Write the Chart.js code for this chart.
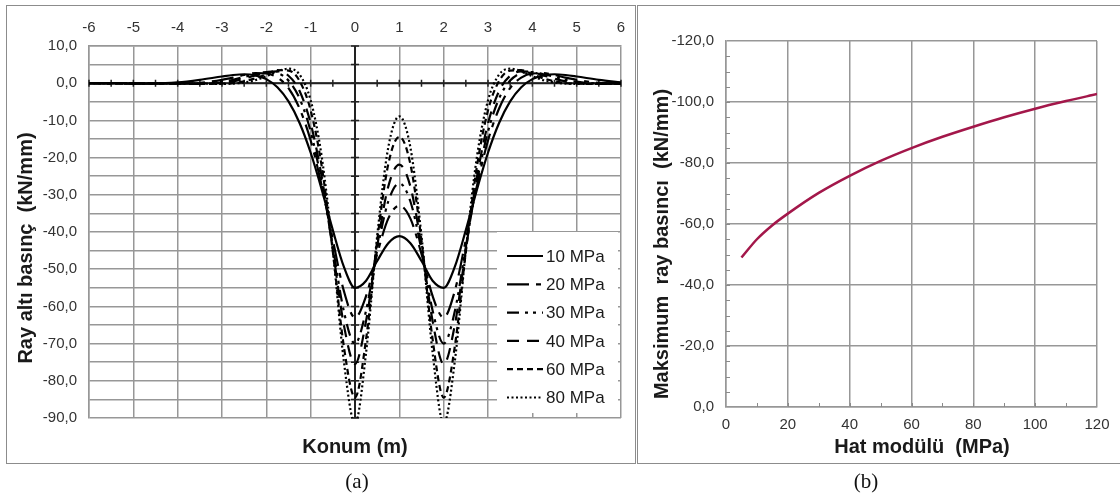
<!DOCTYPE html>
<html>
<head>
<meta charset="utf-8">
<script src="https://cdn.jsdelivr.net/npm/chart.js@4"></script>
<style>
  html, body { margin: 0; padding: 0; background: #fff; }
  body { width: 1120px; height: 497px; position: relative; overflow: hidden; }
  .frame { position: absolute; border: 1.5px solid #8c8c8c; box-sizing: border-box; }
  #frameA { left: 6px; top: 5px; width: 630px; height: 459px; }
  #frameB { left: 637px; top: 5px; width: 500px; height: 459px; }
  canvas { position: absolute; top: 0; }
  #chartA { left: 0; }
  #chartB { left: 638px; }
  .caption { position: absolute; top: 469px; width: 80px; text-align: center;
             font-family: "Liberation Serif", "Times New Roman", serif; font-size: 21px; color: #111; }
</style>
</head>
<body>
<div class="frame" id="frameA"></div>
<div class="frame" id="frameB"></div>
<canvas id="chartA" width="636" height="470"></canvas>
<canvas id="chartB" width="482" height="470"></canvas>
<div class="caption" style="left:317px">(a)</div>
<div class="caption" style="left:826px">(b)</div>

<script>
// (a) Ray altı basınç - konum
const konum = [-6, -5.5, -5, -4.5, -4, -3.5, -3, -2.75, -2.5, -2.25, -2, -1.75, -1.5, -1.25, -1, -0.75, -0.5, -0.25, 0,
  0.25, 0.5, 0.75, 1, 1.25, 1.5, 1.75, 2, 2.25, 2.5, 2.75, 3, 3.25, 3.5, 3.75, 4, 4.25, 4.5, 4.75, 5, 5.5, 6]

const basinc10 = [0.0, 0.0, -0.1, -0.1, 0.2, 0.9, 1.8, 2.2, 2.4, 2.1, 1.1, -1.1, -4.9, -10.7, -18.7, -28.6, -39.5, -49.4, -55.0,
  -53.1, -47.8, -43.0, -41.1, -43.0, -47.8, -53.1, -55.0, -49.4, -39.5, -28.6, -18.7, -10.7, -4.9, -1.1, 1.1, 2.1, 2.4, 2.2, 1.8, 0.9, 0.2]
const basinc20 = [0.0, -0.1, -0.1, -0.1, -0.1, 0.1, 0.9, 1.5, 2.2, 2.7, 2.6, 1.5, -1.3, -6.8, -15.4, -27.6, -42.1, -55.9, -63.0,
  -57.2, -45.9, -36.4, -32.9, -36.4, -45.9, -57.2, -63.0, -55.9, -42.1, -27.6, -15.4, -6.8, -1.3, 1.5, 2.6, 2.7, 2.2, 1.5, 0.9, 0.1, -0.1]
const basinc30 = [0.0, -0.1, -0.1, -0.1, -0.1, -0.1, 0.4, 0.9, 1.7, 2.4, 3.0, 2.7, 0.7, -4.1, -13.0, -26.6, -44.0, -61.4, -70.0,
  -61.1, -44.9, -31.8, -26.9, -31.8, -44.9, -61.1, -70.0, -61.4, -44.0, -26.6, -13.0, -4.1, 0.7, 2.7, 3.0, 2.4, 1.7, 0.9, 0.4, -0.1, -0.1]
const basinc40 = [0.0, 0.0, 0.0, -0.1, -0.1, -0.2, 0.1, 0.5, 1.2, 2.1, 3.0, 3.2, 2.0, -2.1, -10.8, -25.2, -44.8, -65.1, -75.5,
  -63.9, -43.9, -27.8, -21.9, -27.8, -43.9, -63.9, -75.5, -65.1, -44.8, -25.2, -10.8, -2.1, 2.0, 3.2, 3.0, 2.1, 1.2, 0.5, 0.1, -0.2, -0.1]
const basinc60 = [0.0, 0.0, 0.0, 0.0, -0.1, -0.2, -0.1, 0.0, 0.5, 1.3, 2.4, 3.5, 3.4, 0.6, -7.3, -22.4, -45.3, -70.9, -84.5,
  -68.8, -42.3, -21.8, -14.4, -21.8, -42.3, -68.8, -84.5, -70.9, -45.3, -22.4, -7.3, 0.6, 3.4, 3.5, 2.4, 1.3, 0.5, 0.0, -0.1, -0.2, -0.1]
const basinc80 = [0.0, 0.0, 0.0, 0.0, -0.1, -0.1, -0.2, -0.1, 0.2, 0.8, 1.9, 3.2, 3.9, 2.3, -4.6, -19.8, -44.9, -74.9, -91.5,
  -72.4, -41.1, -17.3, -8.9, -17.3, -41.1, -72.4, -91.5, -74.9, -44.9, -19.8, -4.6, 2.3, 3.9, 3.2, 1.9, 0.8, 0.2, -0.1, -0.2, -0.1, -0.1]

const seriAdlari = ['10 MPa', '20 MPa', '30 MPa', '40 MPa', '60 MPa', '80 MPa']
const seriler = [basinc10, basinc20, basinc30, basinc40, basinc60, basinc80]

// (b) Maksimum ray basıncı - hat modülü
const hatModulu = [5, 10, 15, 20, 30, 40, 50, 60, 70, 80, 90, 100, 110, 120]
const maksBasinc = [-49.0, -55.0, -59.6, -63.4, -70.2, -75.8, -80.7, -84.9, -88.6, -91.9, -95.0, -97.8, -100.3, -102.6]

const FONT = '"Liberation Sans", Arial, sans-serif'
const GRID = '#979797'
const dashes = [[], [22, 7, 5, 7], [12, 6, 3, 5, 3, 6], [12, 8], [6, 4], [2, 2.5]]

Chart.defaults.font.family = FONT
Chart.defaults.color = '#333'

const fmt = v => v.toFixed(1).replace('.', ',')

// axis titles drawn at fixed spots (canvas coords)
const basliklar = {
  id: 'basliklar',
  afterDraw(chart, args, opts) {
    const ctx = chart.ctx
    ctx.save()
    ctx.fillStyle = '#1a1a1a'
    ctx.font = 'bold 20px ' + FONT
    ctx.textAlign = 'center'
    ctx.textBaseline = 'middle'
    ctx.fillText(opts.x.text, opts.x.cx, opts.x.cy)
    ctx.translate(opts.y.cx, opts.y.cy)
    ctx.rotate(-Math.PI / 2)
    ctx.fillText(opts.y.text, 0, 0)
    ctx.restore()
  }
}

// zero axes with their small ticks, panel (a)
const sifirEksen = {
  id: 'sifirEksen',
  beforeDatasetsDraw(chart) {
    const { ctx, chartArea: a, scales: { x, y } } = chart
    const x0 = x.getPixelForValue(0)
    const y0 = y.getPixelForValue(0)
    ctx.save()
    ctx.strokeStyle = '#222'
    ctx.lineWidth = 2
    ctx.beginPath()
    ctx.moveTo(a.left, y0); ctx.lineTo(a.right, y0)
    ctx.moveTo(x0, a.top); ctx.lineTo(x0, a.bottom)
    ctx.stroke()
    ctx.lineWidth = 1.5
    ctx.beginPath()
    for (let v = -6; v <= 6; v += 0.5) {
      const px = x.getPixelForValue(v)
      ctx.moveTo(px, y0 - 3.5); ctx.lineTo(px, y0 + 3.5)
    }
    for (let v = -90; v <= 10; v += 5) {
      const py = y.getPixelForValue(v)
      ctx.moveTo(x0 - 4, py); ctx.lineTo(x0 + 4, py)
    }
    ctx.stroke()
    ctx.restore()
  }
}

// legend box inside the plot, panel (a)
const lejant = {
  id: 'lejant',
  afterDatasetsDraw(chart) {
    const ctx = chart.ctx
    ctx.save()
    ctx.fillStyle = '#fff'
    ctx.fillRect(497, 232, 121, 181)
    chart.data.datasets.forEach((ds, i) => {
      const yy = 256 + i * 28.3
      ctx.strokeStyle = '#000'
      ctx.lineWidth = 2.2
      ctx.setLineDash(ds.borderDash)
      ctx.beginPath()
      ctx.moveTo(507, yy); ctx.lineTo(543, yy)
      ctx.stroke()
      ctx.setLineDash([])
      ctx.fillStyle = '#1a1a1a'
      ctx.font = '17px ' + FONT
      ctx.textBaseline = 'middle'
      ctx.fillText(ds.label, 546, yy + 1)
    })
    ctx.restore()
  }
}

// small inner ticks, panel (b)
const araTikler = {
  id: 'araTikler',
  afterDatasetsDraw(chart) {
    const { ctx, chartArea: a, scales: { x, y } } = chart
    ctx.save()
    ctx.strokeStyle = '#8a8a8a'
    ctx.lineWidth = 1
    ctx.beginPath()
    for (let v = -115; v < 0; v += 5) {
      const py = Math.round(y.getPixelForValue(v)) + 0.5
      ctx.moveTo(a.left, py); ctx.lineTo(a.left + 4, py)
    }
    for (let v = 10; v < 120; v += 10) {
      const px = Math.round(x.getPixelForValue(v)) + 0.5
      ctx.moveTo(px, a.bottom); ctx.lineTo(px, a.bottom - 4)
    }
    ctx.stroke()
    ctx.restore()
  }
}

new Chart(document.getElementById('chartA'), {
  type: 'line',
  data: {
    datasets: seriler.map((vals, i) => ({
      label: seriAdlari[i],
      data: konum.map((k, j) => ({ x: k, y: vals[j] })),
      borderColor: '#000',
      borderWidth: 2.2,
      borderDash: dashes[i],
      pointRadius: 0,
      fill: false,
      cubicInterpolationMode: 'monotone'
    }))
  },
  options: {
    responsive: false,
    animation: false,
    layout: { padding: { right: 15, bottom: 52 } },
    plugins: {
      legend: { display: false },
      tooltip: { enabled: false },
      basliklar: {
        x: { text: 'Konum (m)', cx: 355, cy: 447 },
        y: { text: 'Ray altı basınç  (kN/mm)', cx: 26, cy: 248 }
      }
    },
    scales: {
      x: {
        type: 'linear', position: 'top', min: -6, max: 6,
        ticks: { stepSize: 1, autoSkip: false, maxRotation: 0, padding: 9, font: { size: 15 }, callback: v => String(v) },
        grid: { color: GRID, lineWidth: 1.5, drawTicks: false },
        border: { color: GRID, width: 1.5 },
        afterFit: s => { s.height = 46 }
      },
      y: {
        min: -90, max: 10,
        ticks: { stepSize: 5, autoSkip: false, padding: 12, font: { size: 15 }, callback: v => (v % 10 === 0 ? fmt(v) : '') },
        grid: { color: GRID, lineWidth: 1.5, drawTicks: false },
        border: { color: GRID, width: 1.5 },
        afterFit: s => { s.width = 89 }
      }
    }
  },
  plugins: [sifirEksen, lejant, basliklar]
})

new Chart(document.getElementById('chartB'), {
  type: 'line',
  data: {
    datasets: [{
      label: 'Maksimum ray basıncı',
      data: hatModulu.map((m, i) => ({ x: m, y: maksBasinc[i] })),
      borderColor: '#a3174a',
      borderWidth: 2.5,
      pointRadius: 0,
      fill: false,
      cubicInterpolationMode: 'monotone'
    }]
  },
  options: {
    responsive: false,
    animation: false,
    layout: { padding: { top: 41, right: 23 } },
    plugins: {
      legend: { display: false },
      tooltip: { enabled: false },
      basliklar: {
        x: { text: 'Hat modülü  (MPa)', cx: 284, cy: 447 },
        y: { text: 'Maksimum  ray basıncı  (kN/mm)', cx: 24, cy: 244 }
      }
    },
    scales: {
      x: {
        type: 'linear', min: 0, max: 120,
        ticks: { stepSize: 20, autoSkip: false, maxRotation: 0, padding: 9, font: { size: 15 } },
        grid: { color: GRID, lineWidth: 1.5, drawTicks: false },
        border: { color: GRID, width: 1.5 },
        afterFit: s => { s.height = 63 }
      },
      y: {
        min: -120, max: 0, reverse: true,
        ticks: { stepSize: 20, autoSkip: false, padding: 12, font: { size: 15 }, callback: v => fmt(v) },
        grid: { color: GRID, lineWidth: 1.5, drawTicks: false },
        border: { color: GRID, width: 1.5 },
        afterFit: s => { s.width = 88 }
      }
    }
  },
  plugins: [araTikler, basliklar]
})
</script>
</body>
</html>
